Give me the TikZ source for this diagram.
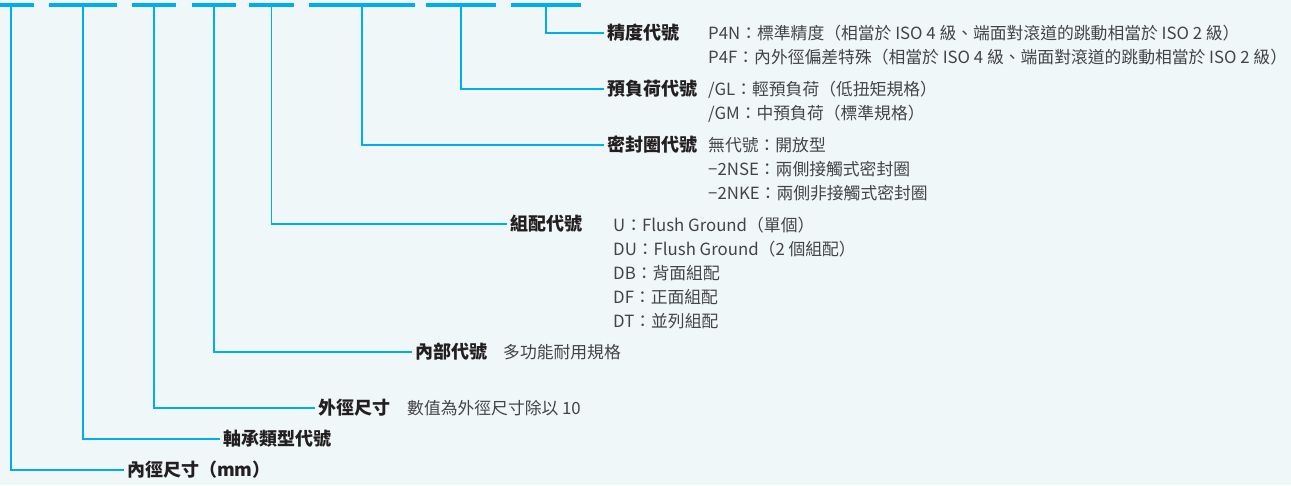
\documentclass[tikz,border=0pt]{standalone}
\usepackage{fontspec}
\setmainfont{Noto Sans CJK TC}
\definecolor{bgblue}{HTML}{EFF7F9}
\definecolor{linkblue}{HTML}{00AEEF}
\definecolor{labtext}{HTML}{231F20}
\definecolor{desctext}{HTML}{444444}
\tikzset{
  barbox/.style={fill=linkblue, inner sep=0pt, minimum height=3.7pt},
  link/.style={draw=linkblue, line width=1.3pt},
  lab/.style={anchor=west, inner sep=3pt, text=labtext, font=\fontsize{18}{24}\selectfont\bfseries},
  desc/.style={anchor=base west, inner sep=0pt, align=left, text=desctext, font=\fontsize{16.8}{24}\selectfont}
}
\begin{document}
\begin{tikzpicture}[x=1pt, y=-1pt]
    \fill[bgblue] (0, 0) rectangle (1291, 485);
    \useasboundingbox (0, 0) rectangle (1291, 485);

        % code bars
        \node[barbox, minimum width=46pt] (b1) at (11, 5.2){};
        \node[barbox, minimum width=68pt] (b2) at (83, 5.2){};
        \node[barbox, minimum width=44pt] (b3) at (154, 5.2){};
        \node[barbox, minimum width=44pt] (b4) at (214, 5.2){};
        \node[barbox, minimum width=45pt] (b5) at (271.5, 5.2){};
        \node[barbox, minimum width=106pt] (b6) at (362, 5.2){};
        \node[barbox, minimum width=70pt] (b7) at (461, 5.2){};
        \node[barbox, minimum width=70pt] (b8) at (546, 5.2){};

        % labels
        \node[lab] (l8) at (604, 33){精度代號};
        \node[lab] (l7) at (604, 89){預負荷代號};
        \node[lab] (l6) at (604, 145){密封圈代號};
        \node[lab] (l5) at (507, 224){組配代號};
        \node[lab] (l4) at (412, 352){內部代號};
        \node[lab] (l3) at (315, 408){外徑尺寸};
        \node[lab] (l2) at (220, 439){軸承類型代號};
        \node[lab] (l1) at (124, 470){內徑尺寸（mm）};

        \draw[link] (b8.south) |- (l8.west);
        \draw[link] (b7.south) |- (l7.west);
        \draw[link] (b6.south) |- (l6.west);
        \draw[link] (b5.south) |- (l5.west);
        \draw[link] (b4.south) |- (l4.west);
        \draw[link] (b3.south) |- (l3.west);
        \draw[link] (b2.south) |- (l2.west);
        \draw[link] (b1.south) |- (l1.west);

        % descriptions (base = last line)
        \node[desc] (d8) at (708, 63.3){P4N：標準精度（相當於 ISO 4 級、端面對滾道的跳動相當於 ISO 2 級）\\P4F：內外徑偏差特殊（相當於 ISO 4 級、端面對滾道的跳動相當於 ISO 2 級）};
        \node[desc] (d7) at (708, 119.3){/GL：輕預負荷（低扭矩規格）\\/GM：中預負荷（標準規格）};
        \node[desc] (d6) at (708, 199.3){無代號：開放型\\−2NSE：兩側接觸式密封圈\\−2NKE：兩側非接觸式密封圈};
        \node[desc] (d5) at (613, 327.3){U：Flush Ground（單個）\\DU：Flush Ground（2 個組配）\\DB：背面組配\\DF：正面組配\\DT：並列組配};
        \node[desc] (d4) at (503, 358.3){多功能耐用規格};
        \node[desc] (d3) at (407, 414.3){數值為外徑尺寸除以 10};

    \end{tikzpicture}
\end{document}
